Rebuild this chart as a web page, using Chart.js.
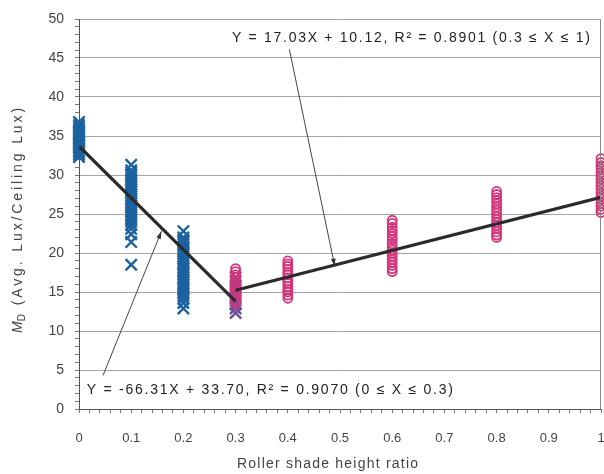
<!DOCTYPE html>
<html>
<head>
<meta charset="utf-8">
<script src="https://cdn.jsdelivr.net/npm/chart.js@4.4.1/dist/chart.umd.min.js"></script>
<style>
  html, body { margin: 0; padding: 0; background: #fff; }
</style>
</head>
<body>
<canvas id="mdChart" width="604" height="474"></canvas>
<script>
// M_D measurements, grouped by roller shade height ratio
const lowRatios = [0, 0.1, 0.2, 0.3];
const mdLow00 = [32.3, 32.6, 32.9, 33.1, 33.4, 33.7, 33.9, 34.2, 34.5, 34.7, 35.0, 35.3, 35.5, 35.8, 36.1, 36.4, 36.8];
const mdLow01 = [31.3, 30.6, 30.3, 30.0, 29.7, 29.4, 29.1, 28.8, 28.5, 28.2, 27.9, 27.6, 27.3, 27.0, 26.7, 26.4,
                 26.1, 25.8, 25.5, 25.2, 24.9, 24.6, 24.3, 24.0, 23.6, 23.1, 22.4, 21.4, 18.5];
const mdLow02 = [22.8, 22.0, 21.7, 21.4, 21.1, 20.8, 20.5, 20.2, 19.9, 19.6, 19.3, 19.0, 18.7, 18.4, 18.1, 17.8,
                 17.5, 17.2, 16.9, 16.6, 16.3, 16.0, 15.7, 15.4, 15.1, 14.8, 14.5, 14.1, 13.6, 12.9];
const mdLow03 = [16.9, 16.4, 15.9, 15.4, 14.9, 14.4, 13.9, 13.4, 12.9, 12.3];

const highRatios = [0.3, 0.4, 0.6, 0.8, 1];
const mdHigh03 = [18.0, 17.6, 17.2, 16.9, 16.5, 16.1, 15.8, 15.4, 15.0, 14.7, 14.3, 13.9, 13.5];
const mdHigh04 = [19.0, 18.6, 18.3, 17.9, 17.5, 17.2, 16.8, 16.4, 16.1, 15.7, 15.3, 15.0, 14.6, 14.2];
const mdHigh06 = [24.2, 23.8, 23.3, 22.9, 22.5, 22.1, 21.7, 21.2, 20.8, 20.4, 20.0, 19.6, 19.2, 18.8, 18.4, 18.0, 17.6];
const mdHigh08 = [27.9, 27.5, 27.1, 26.7, 26.3, 25.9, 25.5, 25.1, 24.7, 24.3, 23.9, 23.5, 23.1, 22.7, 22.3, 22.0];
const mdHigh10 = [32.1, 31.6, 31.2, 30.8, 30.3, 29.9, 29.5, 29.0, 28.6, 28.2, 27.7, 27.3, 26.9, 26.4, 26.0, 25.6, 25.2];

// piecewise linear fits
const fitSlopes = [-66.31, 17.03];
const fitIntercepts = [33.70, 10.12];
const fitR2 = [0.9070, 0.8901];
const fitFrom = [0, 0.3];
const fitTo = [0.3, 1];

// callout placement (data units): text start/end, arrow tail, arrow tip
const noteFrom = [[0.015, 2.4], [0.293, 47.6]];
const noteTo = [0.716, 0.979];
const arrowTail = [[0.046, 4.3], [0.403, 46.1]];
const arrowTip = [[0.158, 22.8], [0.49, 18.3]];

const xTicks = [0, 0.1, 0.2, 0.3, 0.4, 0.5, 0.6, 0.7, 0.8, 0.9, 1];
const yTicks = [0, 5, 10, 15, 20, 25, 30, 35, 40, 45, 50];

const BLUE = '#1d62a0';
const PINK = '#d3357b';
const FONT = 'Liberation Sans, Arial, sans-serif';

function toPoints(ratios, groups) {
    const pts = [];
    ratios.forEach((r, i) => groups[i].forEach(v => pts.push({ x: r, y: v })));
    return pts;
}

function fitText(i) {
    return 'Y = ' + fitSlopes[i].toFixed(2) + 'X + ' + fitIntercepts[i].toFixed(2) +
        ', R\u00B2 = ' + fitR2[i].toFixed(4) + ' (' + fitFrom[i] + ' \u2264 X \u2264 ' + fitTo[i] + ')';
}

// draw text spread out to a given width
function spreadText(ctx, text, x, y, width) {
    ctx.letterSpacing = '0px';
    const natural = ctx.measureText(text).width;
    const gap = Math.max(0, (width - natural) / Math.max(1, text.length - 1));
    ctx.letterSpacing = gap.toFixed(2) + 'px';
    ctx.fillText(text, x, y);
    ctx.letterSpacing = '0px';
}

const lowPoints = toPoints(lowRatios, [mdLow00, mdLow01, mdLow02, mdLow03]);
const highPoints = toPoints(highRatios, [mdHigh03, mdHigh04, mdHigh06, mdHigh08, mdHigh10]);

const fitLines = fitSlopes.map((m, i) => ({
    type: 'line',
    data: [
        { x: fitFrom[i], y: m * fitFrom[i] + fitIntercepts[i] },
        { x: fitTo[i], y: m * fitTo[i] + fitIntercepts[i] }
    ],
    borderColor: '#2b2b2b',
    borderWidth: 3.2,
    pointRadius: 0,
    showLine: true,
    order: 0
}));

const callouts = {
    id: 'callouts',
    afterDatasetsDraw(chart) {
        const { ctx, scales: { x, y } } = chart;
        ctx.save();
        // right frame line
        ctx.strokeStyle = '#8a8a8a';
        ctx.lineWidth = 1;
        ctx.beginPath();
        ctx.moveTo(Math.round(x.right) - 0.5, y.top);
        ctx.lineTo(Math.round(x.right) - 0.5, y.bottom);
        ctx.stroke();

        for (let i = 0; i < 2; i++) {
            const tx = x.getPixelForValue(arrowTail[i][0]), ty = y.getPixelForValue(arrowTail[i][1]);
            const hx = x.getPixelForValue(arrowTip[i][0]), hy = y.getPixelForValue(arrowTip[i][1]);
            ctx.strokeStyle = '#444';
            ctx.fillStyle = '#333';
            ctx.lineWidth = 1;
            ctx.beginPath();
            ctx.moveTo(tx, ty);
            ctx.lineTo(hx, hy);
            ctx.stroke();
            const a = Math.atan2(hy - ty, hx - tx);
            ctx.beginPath();
            ctx.moveTo(hx, hy);
            ctx.lineTo(hx - 8 * Math.cos(a - 0.3), hy - 8 * Math.sin(a - 0.3));
            ctx.lineTo(hx - 8 * Math.cos(a + 0.3), hy - 8 * Math.sin(a + 0.3));
            ctx.closePath();
            ctx.fill();

            ctx.font = '14px ' + FONT;
            ctx.fillStyle = '#222';
            ctx.textBaseline = 'middle';
            ctx.textAlign = 'left';
            const sx = x.getPixelForValue(noteFrom[i][0]);
            spreadText(ctx, fitText(i), sx, y.getPixelForValue(noteFrom[i][1]), x.getPixelForValue(noteTo[i]) - sx);
        }
        ctx.restore();
    },
    afterDraw(chart) {
        const { ctx } = chart;
        ctx.save();
        ctx.fillStyle = '#444';
        // x title
        ctx.font = '14px ' + FONT;
        ctx.textAlign = 'left';
        ctx.textBaseline = 'middle';
        spreadText(ctx, 'Roller shade height ratio', 237, 464, 181);

        // y title with subscript D
        const main = 'M', sub = 'D', rest = ' (Avg. Lux/Ceiling Lux)';
        const fM = 'italic 14px ' + FONT, fS = '10px ' + FONT, fR = '14px ' + FONT;
        const span = 228;
        ctx.font = fM; const wM = ctx.measureText(main).width;
        ctx.font = fS; const wS = ctx.measureText(sub).width;
        ctx.font = fR; const wR = ctx.measureText(rest).width;
        const gap = (span - wM - wS - 2 - wR) / (rest.length);
        ctx.translate(18, 219);
        ctx.rotate(-Math.PI / 2);
        let cx = -span / 2;
        ctx.font = fM; ctx.fillText(main, cx, 0); cx += wM;
        ctx.font = fS; ctx.fillText(sub, cx, 4); cx += wS + 2;
        ctx.font = fR; spreadText(ctx, rest, cx, 0, wR + gap * (rest.length - 1));
        ctx.restore();
    }
};

new Chart(document.getElementById('mdChart').getContext('2d'), {
    type: 'scatter',
    data: {
        datasets: [
            ...fitLines,
            {
                label: 'High ratio',
                data: highPoints,
                pointStyle: 'circle',
                pointRadius: 4.5,
                pointBorderWidth: 1.8,
                pointBorderColor: PINK,
                pointBackgroundColor: 'rgba(255,255,255,0)',
                clip: false,
                order: 1
            },
            {
                label: 'Low ratio',
                data: lowPoints,
                pointStyle: 'crossRot',
                pointRadius: 8,
                pointBorderWidth: 2.4,
                pointBorderColor: ctx => (ctx.raw && ctx.raw.x === 0.3 ? '#6b4f98' : BLUE),
                clip: false,
                order: 2
            }
        ]
    },
    options: {
        responsive: false,
        animation: false,
        layout: { autoPadding: false, padding: { left: 0, right: 3, top: 19, bottom: 0 } },
        plugins: {
            legend: { display: false },
            tooltip: { enabled: false }
        },
        scales: {
            x: {
                type: 'linear',
                min: 0,
                max: 1,
                afterFit: s => { s.height = 65; s.paddingLeft = 0; s.paddingRight = 0; },
                afterBuildTicks: s => {
                    const t = [];
                    for (let k = 0; k <= 50; k++) t.push({ value: k / 50 });
                    s.ticks = t;
                },
                ticks: {
                    autoSkip: false,
                    maxRotation: 0,
                    padding: 18,
                    color: '#444',
                    font: { family: FONT, size: 13 },
                    callback: v => {
                        const r = Math.round(v * 100);
                        return r % 10 === 0 && xTicks.includes(r / 100) ? String(r / 100) : '';
                    }
                },
                grid: { drawOnChartArea: false, tickLength: 4, tickColor: '#777' },
                border: { color: '#555', width: 1 }
            },
            y: {
                min: 0,
                max: 50,
                afterFit: s => { s.width = 79; s.paddingTop = 0; s.paddingBottom = 0; },
                afterBuildTicks: s => {
                    const t = [];
                    for (let k = 0; k <= 50; k++) t.push({ value: k });
                    s.ticks = t;
                },
                ticks: {
                    autoSkip: false,
                    padding: 11,
                    color: '#444',
                    font: { family: FONT, size: 14 },
                    callback: v => (yTicks.includes(v) ? String(v) : '')
                },
                grid: {
                    tickLength: 4,
                    tickColor: '#777',
                    color: c => (c.tick && c.tick.value % 5 === 0 && c.tick.value !== 0 ? '#a5a5a5' : 'rgba(0,0,0,0)')
                },
                border: { color: '#555', width: 1 }
            }
        }
    },
    plugins: [callouts]
});
</script>
</body>
</html>
